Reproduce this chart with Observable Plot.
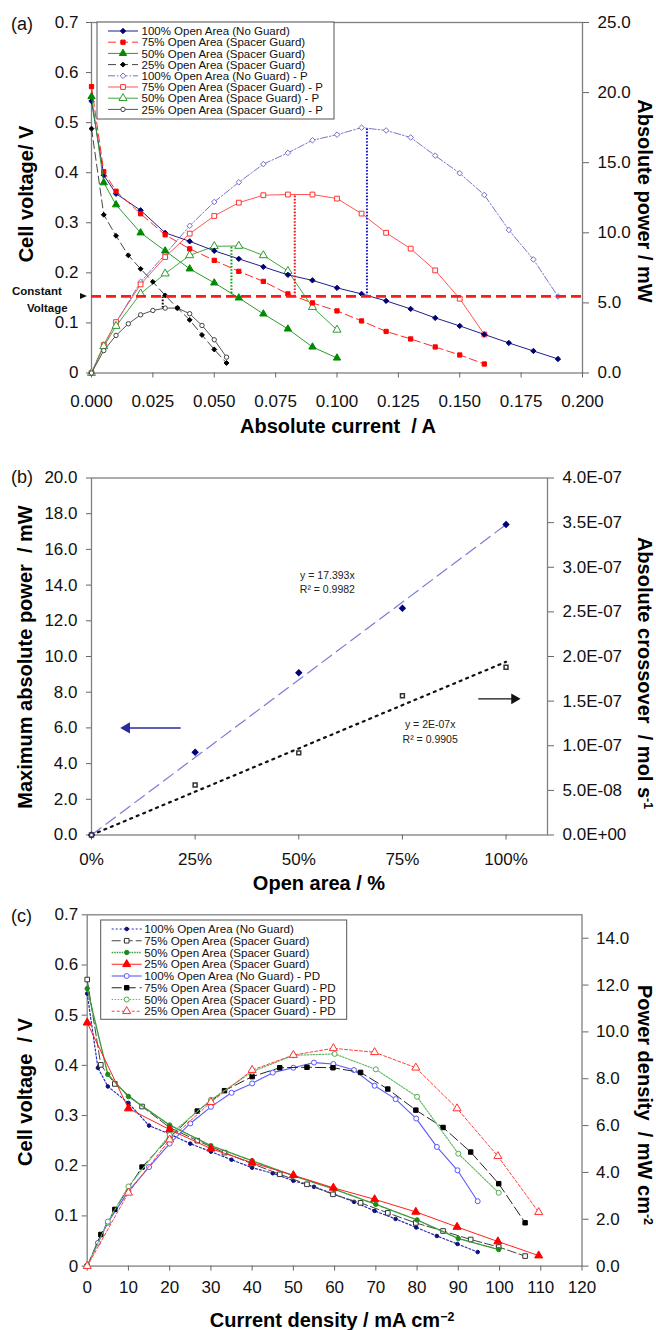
<!DOCTYPE html>
<html><head><meta charset="utf-8">
<script src="https://cdn.jsdelivr.net/npm/d3@7"></script>
<script src="https://cdn.jsdelivr.net/npm/@observablehq/plot@0.6"></script>
<style>
body{margin:0;background:#fff;}
#wrap{position:relative;width:656px;height:1330px;overflow:hidden;background:#fff;}
#wrap svg{position:absolute;left:0;}
</style></head><body><div id="wrap"></div>
<script>
// ---------------- Panel (a) data ----------------
const currentA100 = [0,0.005,0.01,0.02,0.03,0.04,0.05,0.06,0.07,0.08,0.09,0.10,0.11,0.12,0.13,0.14,0.15,0.16,0.17,0.18,0.19];
const voltA100  = [0.543,0.395,0.358,0.325,0.280,0.263,0.244,0.228,0.212,0.196,0.185,0.170,0.158,0.144,0.128,0.110,0.094,0.077,0.060,0.044,0.028];
const powerA100 = [0,2.0,3.6,6.5,8.46,10.5,12.2,13.6,14.9,15.7,16.6,17.0,17.5,17.3,16.8,15.5,14.25,12.7,10.2,8.1,5.46];
const currentA75 = [0,0.005,0.01,0.02,0.03,0.04,0.05,0.06,0.07,0.08,0.09,0.10,0.11,0.12,0.13,0.14,0.15,0.16];
const voltA75  = [0.572,0.402,0.363,0.318,0.276,0.248,0.225,0.203,0.183,0.158,0.140,0.124,0.104,0.083,0.068,0.052,0.036,0.018];
const powerA75 = [0,2.0,3.63,6.32,8.27,9.94,11.2,12.15,12.68,12.73,12.73,12.44,11.37,10.0,8.87,7.32,5.3,2.75];
const currentA50 = [0,0.005,0.01,0.02,0.03,0.04,0.05,0.06,0.07,0.08,0.09,0.10];
const voltA50  = [0.552,0.380,0.336,0.280,0.244,0.208,0.180,0.150,0.118,0.088,0.052,0.030];
const powerA50 = [0,1.9,3.35,5.66,7.09,8.39,9.04,9.06,8.39,7.27,4.7,3.08];
const currentA25 = [0,0.005,0.01,0.015,0.02,0.025,0.03,0.035,0.04,0.045,0.05,0.055];
const voltA25  = [0.488,0.316,0.274,0.235,0.208,0.182,0.155,0.130,0.106,0.076,0.047,0.020];
const powerA25 = [0,1.6,2.68,3.51,4.15,4.46,4.63,4.63,4.23,3.39,2.37,1.13];
const xTicksA = [0,0.025,0.05,0.075,0.1,0.125,0.15,0.175,0.2];
const voltTicksA = [0,0.1,0.2,0.3,0.4,0.5,0.6,0.7];
const powerTicksA = [0,5,10,15,20,25];
const constantVoltage = 0.153;
const mppCurrentA = [0.1122,0.0828,0.057,0.029];
const mppPowerA = [17.5,12.73,9.06,4.63];
const legendLabelsA = ["100% Open Area (No Guard)","75% Open Area (Spacer Guard)","50% Open Area (Spacer Guard)","25% Open Area (Spacer Guard)","100% Open Area (No Guard) - P","75% Open Area (Spacer Guard) - P","50% Open Area (Space Guard) - P","25% Open Area (Spacer Guard) - P"];

// ---------------- Panel (b) data ----------------
const openArea = [0,0.25,0.5,0.75,1.0];
const maxPower = [0,4.64,9.09,12.7,17.4];
const crossover = [0,5.6e-8,9.2e-8,1.56e-7,1.88e-7];
const fitArea = [0,1.0];
const fitPower = [0,17.393];
const fitCrossover = [0,1.94e-7];
const xTicksB = [0,0.25,0.5,0.75,1.0];
const powerTicksB = [0,2,4,6,8,10,12,14,16,18,20];
const crossTicksB = [0,0.5e-7,1.0e-7,1.5e-7,2.0e-7,2.5e-7,3.0e-7,3.5e-7,4.0e-7];
const fitLabelsB = [
  {x:0.569,y:14.54,text:"y = 17.393x",anchor:"start"},
  {x:0.569,y:13.75,text:"R² = 0.9982",anchor:"start"},
  {x:0.817,y:6.19,text:"y = 2E-07x",anchor:"middle"},
  {x:0.817,y:5.35,text:"R² = 0.9905",anchor:"middle"}
];
const arrowPowerB = [{x1:0.215,x2:0.085,y:6.0}];
const arrowCrossB = [{x1:0.933,x2:1.02,y:7.63}];

// ---------------- Panel (c) data ----------------
const cdC100 = [0,2.6,5,10,15,20,25,30,35,40,45,50,55,59.7,64.7,69.7,74.8,79.8,84.8,89.8,94.7];
const voltC100 = [0.543,0.395,0.358,0.325,0.280,0.263,0.244,0.228,0.212,0.196,0.185,0.170,0.158,0.144,0.128,0.110,0.094,0.077,0.060,0.044,0.028];
const pdC100 = [0,0.99,1.85,3.2,4.23,5.23,6.09,6.8,7.4,7.8,8.26,8.47,8.69,8.63,8.37,7.7,7.13,6.3,5.09,4.09,2.77];
const cdC75 = [0,3.3,6.7,13.3,20,26.7,33.3,40,46.7,53.3,59.6,66.3,72.9,79.7,86.3,93,99.8,106.2];
const voltC75 = [0.571,0.401,0.363,0.318,0.276,0.250,0.226,0.204,0.183,0.163,0.143,0.126,0.106,0.086,0.070,0.053,0.038,0.020];
const pdC75 = [0,1.35,2.42,4.23,5.49,6.62,7.49,8.09,8.47,8.49,8.47,8.27,7.56,6.66,5.92,4.87,3.52,1.85];
const cdC50 = [0,5,10,20,30,40,50,60,70,80,90,99.8];
const voltC50 = [0.553,0.382,0.338,0.281,0.240,0.210,0.180,0.153,0.123,0.092,0.055,0.033];
const pdC50 = [0,1.9,3.4,5.6,7.1,8.3,9.0,9.06,8.4,7.23,4.8,3.13];
const cdC25 = [0,10,20,30,40,50,59.7,69.7,79.7,89.7,99.6,109.5];
const voltC25 = [0.485,0.314,0.272,0.234,0.206,0.181,0.156,0.133,0.108,0.078,0.049,0.021];
const pdC25 = [0,3.13,5.4,7.0,8.37,9.01,9.3,9.13,8.47,6.73,4.69,2.3];
const xTicksC = [0,10,20,30,40,50,60,70,80,90,100,110,120];
const voltTicksC = [0,0.1,0.2,0.3,0.4,0.5,0.6,0.7];
const pdTicksC = [0,2,4,6,8,10,12,14];
const legendLabelsC = ["100% Open Area (No Guard)","75% Open Area (Spacer Guard)","50% Open Area (Spacer Guard)","25% Open Area (Spacer Guard)","100% Open Area (No Guard) - PD","75% Open Area (Spacer Guard) - PD","50% Open Area (Spacer Guard) - PD","25% Open Area (Spacer Guard) - PD"];

// ---------------- helpers & styles ----------------
const fontFam = "'Liberation Sans', Arial, Helvetica, sans-serif";
const SYM = {circle:d3.symbolCircle, square:d3.symbolSquare, triangle:d3.symbolTriangle, diamond:d3.symbolDiamond2 || d3.symbolDiamond};
const wrap = document.getElementById("wrap");
const baseStyle = {fontFamily:fontFam, fontSize:"17px", overflow:"visible", background:"transparent", color:"#111"};
const fmtV = d => Math.abs(d) < 1e-9 ? "0" : d.toFixed(1);
const fmtE = v => v.toExponential(1).toUpperCase().replace(/E([+-])(\d)$/, "E$10$2");

function curve(xs, ys, k, st){
  const data = xs.map((x,i)=>({x, y: ys[i]*k}));
  return [
    Plot.line(data,{x:"x",y:"y",stroke:st.stroke,strokeWidth:st.sw,strokeDasharray:st.dash}),
    Plot.dot(data,{x:"x",y:"y",symbol:st.symbol,r:st.r,fill:st.fill,stroke:st.mstroke,strokeWidth:1})
  ];
}
function legend(svg, box, rows, items){
  const g = d3.select(svg).append("g").attr("text-anchor","start");
  g.append("rect").attr("x",box.x).attr("y",box.y).attr("width",box.w).attr("height",box.h)
    .attr("fill","#fff").attr("stroke","#555").attr("stroke-width",1);
  items.forEach((it,i)=>{
    const cy = rows.y0 + i*rows.dy, st = it.st;
    g.append("line").attr("x1",rows.sx0).attr("x2",rows.sx1).attr("y1",cy).attr("y2",cy)
      .attr("stroke",st.stroke).attr("stroke-width",st.sw).attr("stroke-dasharray",st.dash||null);
    g.append("path").attr("d", d3.symbol(st.symbol, st.r*st.r*Math.PI)())
      .attr("transform",`translate(${(rows.sx0+rows.sx1)/2},${cy})`).attr("fill",st.fill).attr("stroke",st.mstroke);
    g.append("text").attr("x",rows.tx).attr("y",cy).attr("dy","0.36em").attr("font-size",rows.fs)
      .attr("text-anchor","start").attr("font-family",fontFam).attr("fill","#111").text(it.label);
  });
}
function title(svg, x, y, rot, parts, size){
  const t = d3.select(svg).append("text").attr("transform",`translate(${x},${y}) rotate(${rot})`)
    .attr("text-anchor","middle").attr("font-weight","bold").attr("font-size",size||20)
    .attr("font-family",fontFam).attr("fill","#000");
  parts.forEach(p=>{
    if (typeof p === "string") t.append("tspan").text(p);
    else t.append("tspan").attr("dy","-0.45em").attr("font-size","0.62em").text(p.sup);
  });
}
function label(svg, x, y, txt){
  d3.select(svg).append("text").attr("x",x).attr("y",y).attr("text-anchor","start").attr("font-size",18)
    .attr("font-family",fontFam).attr("fill","#111").text(txt);
}
function axesCommon(){ return {stroke:"#666", fill:"#111", fontSize:17, label:null}; }

// ---------------- Panel (a) ----------------
const kA = 0.7/25;
const stA = {
  v100:{stroke:"#1f1f8f",sw:1,symbol:SYM.diamond,r:2.4,fill:"#000070",mstroke:"#000070"},
  v75:{stroke:"#ff2a2a",sw:1,dash:"8,4",symbol:SYM.square,r:2.4,fill:"#ff0000",mstroke:"#ff0000"},
  v50:{stroke:"#2e9a2e",sw:1,symbol:SYM.triangle,r:2.7,fill:"#008a00",mstroke:"#008a00"},
  v25:{stroke:"#444",sw:1,dash:"8,4",symbol:SYM.diamond,r:2.2,fill:"#000",mstroke:"#000"},
  p100:{stroke:"#7474d0",sw:1,dash:"7,2,1.5,2",symbol:SYM.diamond,r:2.5,fill:"#fff",mstroke:"#7070cc"},
  p75:{stroke:"#ff5555",sw:1,symbol:SYM.square,r:2.7,fill:"#fff",mstroke:"#ff3333"},
  p50:{stroke:"#3fa83f",sw:1,symbol:SYM.triangle,r:3,fill:"#fff",mstroke:"#2e9a2e"},
  p25:{stroke:"#555",sw:1,symbol:SYM.circle,r:2.2,fill:"#fff",mstroke:"#444"}
};
const mppColors = ["#1a1acc","#ee1111","#119911","#111"];
const mppMarks = mppCurrentA.map((c,i)=>Plot.link([{x:c,y1:constantVoltage,y2:mppPowerA[i]*kA}],
  {x1:"x",x2:"x",y1:"y1",y2:"y2",stroke:mppColors[i],strokeWidth:2,strokeDasharray:"1.6,1.6"}));
const plotA = Plot.plot({
  width:656, height:445, marginTop:22, marginBottom:72.5, marginLeft:91, marginRight:74,
  x:{domain:[0,0.2]}, y:{domain:[0,0.7]}, style:baseStyle,
  marks:[
    Plot.frame({stroke:"#808080",strokeWidth:1.3}),
    Plot.axisX({...axesCommon(), ticks:xTicksA, tickFormat:d=>d.toFixed(3), tickSize:5, tickPadding:17}),
    Plot.axisY({...axesCommon(), anchor:"left", ticks:voltTicksA, tickFormat:fmtV, tickSize:5, tickPadding:8}),
    Plot.axisY({...axesCommon(), anchor:"right", ticks:powerTicksA.map(p=>p*0.7/25), tickFormat:d=>(d*25/0.7).toFixed(1), tickSize:6, tickPadding:9}),
    ...curve(currentA100, powerA100, kA, stA.p100),
    ...curve(currentA75, powerA75, kA, stA.p75),
    ...curve(currentA50, powerA50, kA, stA.p50),
    ...curve(currentA25, powerA25, kA, stA.p25),
    ...curve(currentA100, voltA100, 1, stA.v100),
    ...curve(currentA75, voltA75, 1, stA.v75),
    ...curve(currentA50, voltA50, 1, stA.v50),
    ...curve(currentA25, voltA25, 1, stA.v25),
    ...mppMarks,
    Plot.ruleY([constantVoltage],{stroke:"#ff1a1a",strokeWidth:2.6,strokeDasharray:"10,5"})
  ]
});
plotA.style.top = "0px"; wrap.appendChild(plotA);
{
  const yCV = plotA.scale("y").apply(constantVoltage);
  const s = d3.select(plotA);
  s.append("text").attr("x",12).attr("y",yCV-0.5).attr("text-anchor","start").attr("font-size",11.5).attr("font-weight","bold").attr("font-family",fontFam).text("Constant");
  s.append("text").attr("x",27).attr("y",yCV+16).attr("text-anchor","start").attr("font-size",11.5).attr("font-weight","bold").attr("font-family",fontFam).text("Voltage");
  s.append("path").attr("d",`M80,${yCV-3}L87,${yCV}L80,${yCV+3}Z`).attr("fill","#111");
  legend(plotA,{x:97,y:22,w:237,h:97},{y0:31,dy:11.2,sx0:108,sx1:138,tx:141.5,fs:11.5},
    ["v100","v75","v50","v25","p100","p75","p50","p25"].map((k,i)=>({st:stA[k],label:legendLabelsA[i]})));
  title(plotA, 338, 433, 0, ["Absolute current  / A"]);
  title(plotA, 33, 194, -90, ["Cell voltage/ V"]);
  title(plotA, 638, 201, 90, ["Absolute power / mW"]);
  label(plotA, 11, 30, "(a)");
}

// ---------------- Panel (b) ----------------
const kB = 20/4e-7;
const plotB = Plot.plot({
  width:656, height:450, marginTop:32.5, marginBottom:60.5, marginLeft:91, marginRight:109,
  x:{domain:[0,1.1]}, y:{domain:[0,20]}, style:baseStyle,
  marks:[
    Plot.frame({stroke:"#808080",strokeWidth:1.3}),
    Plot.axisX({...axesCommon(), ticks:xTicksB, tickFormat:d=>Math.round(d*100)+"%", tickSize:5, tickPadding:13}),
    Plot.axisY({...axesCommon(), anchor:"left", ticks:powerTicksB, tickFormat:d=>d.toFixed(1), tickSize:5, tickPadding:9}),
    Plot.axisY({...axesCommon(), anchor:"right", ticks:crossTicksB.map(v=>v*kB), tickFormat:d=>fmtE(d/kB), tickSize:6, tickPadding:9}),
    Plot.line(fitArea.map((x,i)=>({x,y:fitPower[i]})),{x:"x",y:"y",stroke:"#7b7bd6",strokeWidth:1.2,strokeDasharray:"12,6"}),
    Plot.line(fitArea.map((x,i)=>({x,y:fitCrossover[i]*kB})),{x:"x",y:"y",stroke:"#111",strokeWidth:2.2,strokeDasharray:"2,5"}),
    Plot.dot(openArea.map((x,i)=>({x,y:maxPower[i]})),{x:"x",y:"y",symbol:SYM.diamond,r:2.4,fill:"#000080",stroke:"#000080"}),
    Plot.dot(openArea.map((x,i)=>({x,y:crossover[i]*kB})),{x:"x",y:"y",symbol:SYM.square,r:2.2,fill:"#fff",stroke:"#333"}),
    Plot.link(arrowPowerB,{x1:"x1",x2:"x2",y1:"y",y2:"y",stroke:"#2a2aa0",strokeWidth:1.5}),
    Plot.dot(arrowPowerB,{x:"x2",y:"y",symbol:"triangle",r:3.2,rotate:-90,fill:"#2a2aa0",stroke:"#2a2aa0"}),
    Plot.link(arrowCrossB,{x1:"x1",x2:"x2",y1:"y",y2:"y",stroke:"#111",strokeWidth:1.3}),
    Plot.dot(arrowCrossB,{x:"x2",y:"y",symbol:"triangle",r:3,rotate:90,fill:"#111",stroke:"#111"}),
    Plot.text(fitLabelsB,{x:"x",y:"y",text:"text",textAnchor:"anchor",fontSize:10.5,fill:"#222",fontFamily:"'Liberation Sans Narrow', 'Liberation Sans', Arial"})
  ]
});
plotB.style.top = "445px"; wrap.appendChild(plotB);
title(plotB, 319, 445, 0, ["Open area / %"]);
title(plotB, 32, 212, -90, ["Maximum absolute power  / mW"]);
title(plotB, 638, 228, 90, ["Absolute crossover  / mol s", {sup:"-1"}]);
label(plotB, 11, 38, "(b)");

// ---------------- Panel (c) ----------------
const kC = 0.7/15;
const stC = {
  v100:{stroke:"#2b2bb0",sw:1.2,dash:"2,2",symbol:SYM.circle,r:1.8,fill:"#10107a",mstroke:"#10107a"},
  v75:{stroke:"#444",sw:1,dash:"9,3",symbol:SYM.square,r:2.6,fill:"#fff",mstroke:"#333"},
  v50:{stroke:"#3c9a3c",sw:1.4,dash:"1.5,1",symbol:SYM.circle,r:2.2,fill:"#1e8a1e",mstroke:"#1e8a1e"},
  v25:{stroke:"#ff2020",sw:1,symbol:SYM.triangle,r:3,fill:"#ff0000",mstroke:"#ff0000"},
  p100:{stroke:"#5a5aff",sw:1.1,symbol:SYM.circle,r:2.5,fill:"#fff",mstroke:"#5555ff"},
  p75:{stroke:"#222",sw:1,dash:"10,4",symbol:SYM.square,r:2.5,fill:"#000",mstroke:"#000"},
  p50:{stroke:"#66bb66",sw:1.2,dash:"1.5,1.5",symbol:SYM.circle,r:2.5,fill:"#fff",mstroke:"#55aa55"},
  p25:{stroke:"#ff4040",sw:1,dash:"3,2",symbol:SYM.triangle,r:3,fill:"#fff",mstroke:"#ff3030"}
};
const plotC = Plot.plot({
  width:656, height:435, marginTop:19.3, marginBottom:64.4, marginLeft:86.7, marginRight:74.5,
  x:{domain:[0,120]}, y:{domain:[0,0.7]}, style:baseStyle,
  marks:[
    Plot.frame({stroke:"#808080",strokeWidth:1.3}),
    Plot.axisX({...axesCommon(), ticks:xTicksC, tickFormat:d=>String(d), tickSize:5, tickPadding:10}),
    Plot.axisY({...axesCommon(), anchor:"left", ticks:voltTicksC, tickFormat:fmtV, tickSize:5, tickPadding:4}),
    Plot.axisY({...axesCommon(), anchor:"right", ticks:pdTicksC.map(p=>p*0.7/15), tickFormat:d=>(d*15/0.7).toFixed(1), tickSize:6, tickPadding:8}),
    ...curve(cdC100, voltC100, 1, stC.v100),
    ...curve(cdC75, voltC75, 1, stC.v75),
    ...curve(cdC50, voltC50, 1, stC.v50),
    ...curve(cdC25, voltC25, 1, stC.v25),
    ...curve(cdC100, pdC100, kC, stC.p100),
    ...curve(cdC75, pdC75, kC, stC.p75),
    ...curve(cdC50, pdC50, kC, stC.p50),
    ...curve(cdC25, pdC25, kC, stC.p25)
  ]
});
plotC.style.top = "895px"; wrap.appendChild(plotC);
legend(plotC,{x:100.7,y:25,w:246,h:99.3},{y0:34,dy:11.75,sx0:111.7,sx1:141.7,tx:144.3,fs:11.6},
  ["v100","v75","v50","v25","p100","p75","p50","p25"].map((k,i)=>({st:stC[k],label:legendLabelsC[i]})));
title(plotC, 332, 432, 0, ["Current density / mA cm", {sup:"−2"}]);
title(plotC, 32, 197, -90, ["Cell voltage  / V"]);
title(plotC, 638, 210, 90, ["Power density  / mW cm", {sup:"-2"}]);
label(plotC, 11, 27, "(c)");
</script></body></html>
